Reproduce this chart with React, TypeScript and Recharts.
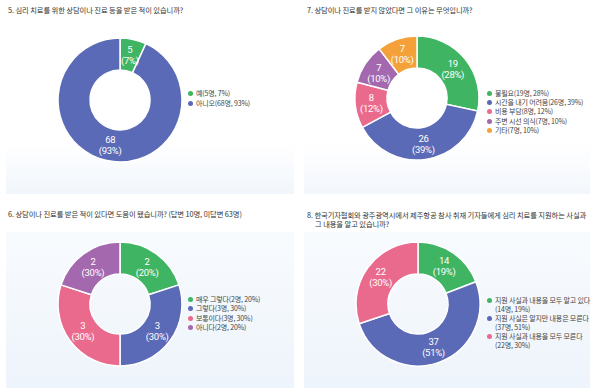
import React from 'react';
import { PieChart, Pie, Cell } from 'recharts';

const FONT = '"Noto Sans CJK KR", "Noto Sans", sans-serif';
const NUMFONT = 'Roboto, "Noto Sans", sans-serif';

// Q5
const q5Title = '5. 심리 치료를 위한 상담이나 진료 등을 받은 적이 있습니까?';
const q5Names = ['예(5명, 7%)', '아니오(68명, 93%)'];
const q5Values = [5, 68];
const q5Pct = ['7%', '93%'];

// Q7
const q7Title = '7. 상담이나 진료를 받지 않았다면 그 이유는 무엇입니까?';
const q7Names = ['불필요(19명, 28%)', '시간을 내기 어려움(26명, 39%)', '비용 부담(8명, 12%)', '주변 시선 의식(7명, 10%)', '기타(7명, 10%)'];
const q7Values = [19, 26, 8, 7, 7];
const q7Pct = ['28%', '39%', '12%', '10%', '10%'];

// Q6
const q6Title = '6. 상담이나 진료를 받은 적이 있다면 도움이 됐습니까? (답변 10명, 미답변 63명)';
const q6Names = ['매우 그렇다(2명, 20%)', '그렇다(3명, 30%)', '보통이다(3명, 30%)', '아니다(2명, 20%)'];
const q6Values = [2, 3, 3, 2];
const q6Pct = ['20%', '30%', '30%', '30%'];

// Q8
const q8Title = ['8. 한국기자협회와 광주광역시에서 제주항공 참사 취재 기자들에게 심리 치료를 지원하는 사실과', '그 내용을 알고 있습니까?'];
const q8Names = [
  ['지원 사실과 내용을 모두 알고 있다', '(14명, 19%)'],
  ['지원 사실은 알지만 내용은 모른다', '(37명, 51%)'],
  ['지원 사실과 내용을 모두 모른다', '(22명, 30%)'],
];
const q8Values = [14, 37, 22];
const q8Pct = ['19%', '51%', '30%'];

const GREEN = '#3fb462';
const BLUE = '#5b6ab6';
const PINK = '#ea6a8d';
const PURPLE = '#a468ae';
const ORANGE = '#f4a13a';
const COLORS = [GREEN, BLUE, PINK, PURPLE, ORANGE];

const RAD = Math.PI / 180;

function makeLabel(pcts: string[]) {
  return (props: any) => {
    const { cx, cy, midAngle, innerRadius, outerRadius, value, index } = props;
    const r = (innerRadius + outerRadius) / 2;
    const x = cx + r * Math.cos(-midAngle * RAD);
    const y = cy + r * Math.sin(-midAngle * RAD);
    return (
      <g>
        <text x={x} y={y - 2} fill="#ffffff" textAnchor="middle" fontSize={9.5} fontFamily={NUMFONT} letterSpacing={-0.3}>
          {value}
        </text>
        <text x={x} y={y + 9} fill="#ffffff" textAnchor="middle" fontSize={9.5} fontFamily={NUMFONT} letterSpacing={-0.3}>
          ({pcts[index]})
        </text>
      </g>
    );
  };
}

function Donut({ values, pcts, cx, cy }: { values: number[]; pcts: string[]; cx: number; cy: number }) {
  const data = values.map((v, i) => ({ name: String(i), value: v }));
  return (
    <PieChart width={300} height={194} style={{ position: 'absolute', left: 0, top: 0 }}>
      <Pie
        data={data}
        dataKey="value"
        cx={cx}
        cy={cy}
        innerRadius={30}
        outerRadius={62}
        startAngle={90}
        endAngle={-270}
        stroke="#ffffff"
        strokeWidth={1.5}
        label={makeLabel(pcts)}
        labelLine={false}
        isAnimationActive={false}
      >
        {data.map((_, i) => (
          <Cell key={i} fill={COLORS[i]} />
        ))}
      </Pie>
    </PieChart>
  );
}

function Legend({ items, left, top, lh }: { items: (string | string[])[]; left: number; top: number; lh: number }) {
  const rows: React.ReactNode[] = [];
  items.forEach((it, i) => {
    const lines = Array.isArray(it) ? it : [it];
    lines.forEach((ln, j) => {
      rows.push(
        <div key={i + '-' + j} style={{ height: lh, lineHeight: lh + 'px', display: 'flex', alignItems: 'center', whiteSpace: 'nowrap' }}>
          <span style={{ display: 'inline-block', flex: 'none', width: 5, height: 5, borderRadius: 3, background: j === 0 ? COLORS[i] : 'transparent', marginRight: 3 }} />
          <span>{ln}</span>
        </div>
      );
    });
  });
  return (
    <div style={{ position: 'absolute', left, top, fontSize: 7, letterSpacing: -0.15, color: '#444', fontFamily: FONT }}>{rows}</div>
  );
}

const titleStyle: React.CSSProperties = {
  position: 'absolute',
  fontSize: 7.3,
  letterSpacing: -0.1,
  color: '#333',
  fontFamily: FONT,
  whiteSpace: 'nowrap',
  lineHeight: '9px',
};

export default function App() {
  return (
    <div style={{ position: 'absolute', left: 0, top: 0, width: 600, height: 388, background: '#ffffff', overflow: 'hidden', fontFamily: FONT }}>
      {/* panel backgrounds */}
      <div style={{ position: 'absolute', left: 6, top: 24, width: 288, height: 170, background: 'linear-gradient(180deg, #ffffff 0%, #ffffff 70%, #f1f6fc 100%)' }} />
      <div style={{ position: 'absolute', left: 304, top: 24, width: 286, height: 170, background: 'linear-gradient(180deg, #ffffff 0%, #ffffff 70%, #f3f7fc 100%)' }} />
      <div style={{ position: 'absolute', left: 6, top: 232, width: 288, height: 156, background: 'linear-gradient(180deg, #f8fbfe 0%, #eef4fb 100%)' }} />
      <div style={{ position: 'absolute', left: 304, top: 232, width: 286, height: 156, background: 'linear-gradient(180deg, #f8fbfe 0%, #eef4fb 100%)' }} />

      {/* Q5 */}
      <div style={{ position: 'absolute', left: 0, top: 0, width: 300, height: 194 }}>
        <div style={{ ...titleStyle, left: 8, top: 6 }}>{q5Title}</div>
        <Donut values={q5Values} pcts={q5Pct} cx={115} cy={95} />
        <Legend items={q5Names} left={188} top={88} lh={10} />
      </div>

      {/* Q7 */}
      <div style={{ position: 'absolute', left: 300, top: 0, width: 300, height: 194 }}>
        <div style={{ ...titleStyle, left: 7, top: 6 }}>{q7Title}</div>
        <Donut values={q7Values} pcts={q7Pct} cx={112} cy={93} />
        <Legend items={q7Names} left={187} top={89} lh={9.2} />
      </div>

      {/* Q6 */}
      <div style={{ position: 'absolute', left: 0, top: 194, width: 300, height: 194 }}>
        <div style={{ ...titleStyle, left: 8, top: 16 }}>{q6Title}</div>
        <Donut values={q6Values} pcts={q6Pct} cx={115} cy={105} />
        <Legend items={q6Names} left={188} top={101} lh={9.3} />
      </div>

      {/* Q8 */}
      <div style={{ position: 'absolute', left: 300, top: 194, width: 300, height: 194 }}>
        <div style={{ ...titleStyle, left: 7, top: 17 }}>{q8Title[0]}</div>
        <div style={{ ...titleStyle, left: 15, top: 26 }}>{q8Title[1]}</div>
        <Donut values={q8Values} pcts={q8Pct} cx={113} cy={105} />
        <Legend items={q8Names} left={187} top={102} lh={9.1} />
      </div>
    </div>
  );
}
